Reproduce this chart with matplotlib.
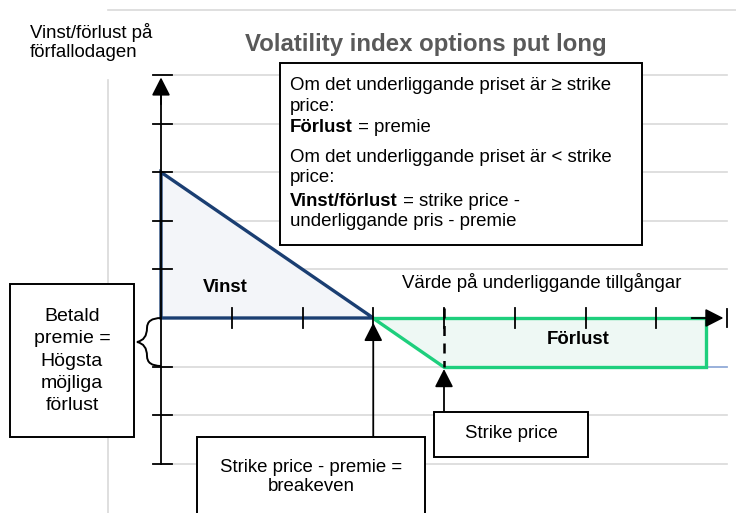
import matplotlib
matplotlib.use("Agg")
import matplotlib.pyplot as plt
from matplotlib.patches import Rectangle, PathPatch, Polygon
from matplotlib.path import Path
from matplotlib.text import Annotation

plt.rcParams["font.family"] = ["Liberation Sans", "DejaVu Sans"]

# payoff areas (x = value of underlying, y = profit/loss at expiry)
vinst_x = [0, 0, 3]
vinst_y = [0, 3, 0]
forlust_x = [3, 7.7, 7.7, 4]
forlust_y = [0, 0, -1, -1]
breakeven = 3
strike = 4
grid_levels = [-3, -2, -1, 1, 2, 3, 4, 5]
x_ticks = [1, 2, 3, 4, 5, 6, 7]
y_ticks = [-3, -2, -1, 1, 2, 3, 4, 5]

W, H = 736, 513
fig = plt.figure(figsize=(W / 100, H / 100), dpi=100)
ax = fig.add_axes([0, 0, 1, 1])

# pixel mapping of the drawing
X0, XU, Y0, YU = 161, 70.75, 318, 48.6
ax.set_xlim(-X0 / XU, (W - X0) / XU)
ax.set_ylim(-(H - Y0) / YU, Y0 / YU)
ax.axis("off")


def px(x, y):
    return (x / W, 1 - y / H)


ftr = fig.transFigure

# chart area frame and gridlines
fig.add_artist(plt.Line2D([108 / W, 1], [1 - 10 / H, 1 - 10 / H], color="#d9d9d9", lw=1.2))
fig.add_artist(plt.Line2D([108 / W, 108 / W], [1 - 80 / H, 0], color="#d9d9d9", lw=1.2))
for g in grid_levels:
    ax.plot([0, 8], [g, g], color="#d9d9d9", lw=1.2, zorder=1)
ax.plot([7.7, 8], [-1, -1], color="#8eaadb", lw=1.2, zorder=1)

# filled payoff areas
ax.add_patch(Polygon(list(zip(vinst_x, vinst_y)), closed=True, facecolor="#f3f5f9",
                     edgecolor="#1a3e72", lw=2.4, zorder=3, joinstyle="miter"))
ax.add_patch(Polygon(list(zip(forlust_x, forlust_y)), closed=True, facecolor="#eef8f4",
                     edgecolor="#1ecf7d", lw=2.4, zorder=3, joinstyle="miter"))

# axes with ticks
ax.plot([0, 0], [-3, 4.8], color="black", lw=1.3, zorder=4)
ax.plot([0, 7.8], [0, 0], color="black", lw=1.3, zorder=2)
for t in y_ticks:
    ax.plot([-0.12, 0.15], [t, t], color="black", lw=1.3, zorder=4)
for t in x_ticks:
    ax.plot([t, t], [-0.2, 0.2], color="black", lw=1.3, zorder=4)
ax.plot([8, 8], [-0.18, 0.18], color="black", lw=1.3, zorder=4)
ax.plot([strike, strike], [0.2, -1], color="black", lw=1.8, ls=(0, (4, 3)), zorder=5)

arrow = dict(arrowstyle="-|>,head_length=0.55,head_width=0.28", color="black",
             lw=1.3, shrinkA=0, shrinkB=0, mutation_scale=20)
ax.annotate("", xy=(0, 4.95), xytext=(0, 4.4), arrowprops=arrow, zorder=6)
ax.annotate("", xy=(7.95, 0), xytext=(7.5, 0), arrowprops=arrow, zorder=6)
ax.annotate("", xy=(breakeven, -0.1), xytext=(breakeven, -2.45), arrowprops=arrow, zorder=6)
ax.annotate("", xy=(strike, -1.05), xytext=(strike, -1.93), arrowprops=arrow, zorder=6)

# curly brace for the premium
bx, tip = 161, 137
brace = Path([px(bx, 318), px(147, 318), px(147, 328), px(147, 340), px(tip, 342),
              px(147, 344), px(147, 356), px(147, 366), px(bx, 366)],
             [Path.MOVETO, Path.CURVE3, Path.CURVE3, Path.CURVE3, Path.CURVE3,
              Path.CURVE3, Path.CURVE3, Path.CURVE3, Path.CURVE3])
fig.add_artist(PathPatch(brace, transform=ftr, fill=False, lw=1.4, color="black"))


# boxes
def box(x0, y0, x1, y1):
    fig.add_artist(Rectangle(px(x0, y1), (x1 - x0) / W, (y1 - y0) / H, transform=ftr,
                             facecolor="white", edgecolor="black", lw=1.4, zorder=7))


box(280, 63, 642, 245)
box(10, 284, 134, 437)
box(197, 437, 425, 530)
box(434, 412, 588, 457)

fs = 13.4

# texts
fig.text(*px(426, 44), "Volatility index options put long", ha="center", va="center",
         fontsize=17.3, fontweight="bold", color="#595959")
fig.text(*px(30, 23), "Vinst/förlust på\nförfallodagen", ha="left", va="top",
         fontsize=fs, linespacing=1.18)
fig.text(*px(225, 288), "Vinst", ha="center", va="center", fontsize=fs, fontweight="bold")
fig.text(*px(578, 340), "Förlust", ha="center", va="center", fontsize=fs, fontweight="bold")
fig.text(*px(542, 283), "Värde på underliggande tillgångar", ha="center", va="center",
         fontsize=fs)

fig.text(*px(290, 86), "Om det underliggande priset är ≥ strike", va="center",
         fontsize=fs, zorder=8)
fig.text(*px(290, 107), "price:", va="center", fontsize=fs, zorder=8)
b1 = fig.text(*px(290, 128), "Förlust", va="center", fontsize=fs, fontweight="bold", zorder=8)
fig.text(*px(290, 157), "Om det underliggande priset är < strike", va="center",
         fontsize=fs, zorder=8)
fig.text(*px(290, 178), "price:", va="center", fontsize=fs, zorder=8)
b2 = fig.text(*px(290, 201), "Vinst/förlust", va="center", fontsize=fs, fontweight="bold", zorder=8)
fig.text(*px(290, 222), "underliggande pris - premie", va="center", fontsize=fs, zorder=8)
for head, rest in [(b1, " = premie"), (b2, " = strike price -")]:
    fig.add_artist(Annotation(rest, xy=(1, 0.5), xycoords=head, va="center",
                              fontsize=fs, zorder=8))

fig.text(*px(72, 361), "Betald\npremie =\nHögsta\nmöjliga\nförlust", ha="center", va="center",
         fontsize=14, linespacing=1.4, zorder=8)
fig.text(*px(311, 477), "Strike price - premie =\nbreakeven", ha="center", va="center",
         fontsize=fs, linespacing=1.17, zorder=8)
fig.text(*px(511, 434), "Strike price", ha="center", va="center", fontsize=fs, zorder=8)

fig.savefig("out.png", dpi=100)
